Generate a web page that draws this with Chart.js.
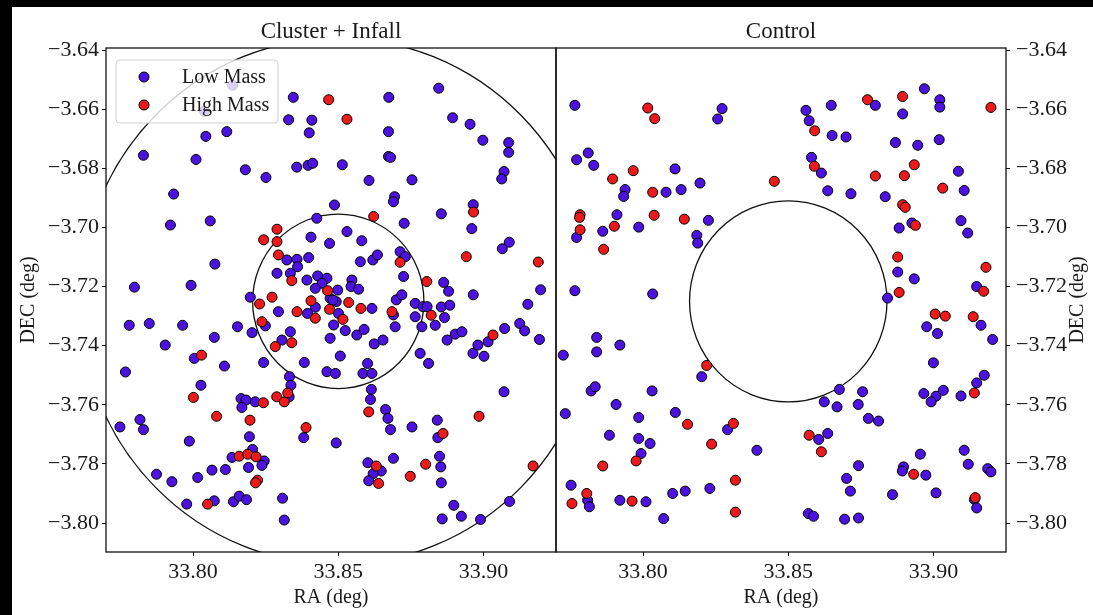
<!DOCTYPE html>
<html>
<head>
<meta charset="utf-8">
<script src="https://cdn.jsdelivr.net/npm/chart.js@4.4.1/dist/chart.umd.min.js"></script>
<style>
  html, body { margin: 0; padding: 0; background: #000; }
  #paper { position: absolute; left: 12px; top: 7px; right: 0; bottom: 0; background: #fff; }
  canvas { position: absolute; left: 0; top: 0; }
</style>
</head>
<body>
<div id="paper"></div>
<canvas id="clusterCanvas" width="1093" height="615"></canvas>
<canvas id="controlCanvas" width="1093" height="615"></canvas>
<script>
// [RA, DEC] in degrees
const clusterLow = [
  [33.8345,-3.6560],[33.8329,-3.6636],[33.8409,-3.6637],[33.8400,-3.6680],[33.8044,-3.6692],[33.8116,-3.6676],
  [33.7829,-3.6756],[33.8010,-3.6770],[33.8180,-3.6805],[33.8251,-3.6831],[33.8357,-3.6796],[33.8396,-3.6790],
  [33.8412,-3.6783],[33.7933,-3.6887],[33.7922,-3.6992],[33.8059,-3.6978],[33.8075,-3.7124],[33.7798,-3.7202],
  [33.7993,-3.7196],[33.8136,-3.6519],[33.8039,-3.6607],
  [33.8674,-3.6560],[33.8846,-3.6529],[33.8673,-3.6676],[33.8894,-3.6629],[33.8954,-3.6651],[33.8998,-3.6705],
  [33.9087,-3.6713],[33.9087,-3.6746],[33.8673,-3.6760],[33.8680,-3.6763],[33.8514,-3.6788],[33.8606,-3.6841],
  [33.8754,-3.6839],[33.9071,-3.6811],[33.9063,-3.6836],[33.8694,-3.6896],[33.8965,-3.6923],[33.8855,-3.6954],
  [33.8960,-3.7004],[33.9089,-3.7050],[33.9065,-3.7072],[33.9197,-3.7211],[33.8863,-3.7186],[33.8880,-3.7216],
  [33.8965,-3.7228],
  [33.8487,-3.6924],[33.8426,-3.6969],[33.8727,-3.6986],[33.8530,-3.7014],[33.8406,-3.7033],[33.8470,-3.7054],
  [33.8581,-3.7045],[33.8323,-3.7110],[33.8358,-3.7108],[33.8398,-3.7102],[33.8360,-3.7133],[33.8576,-3.7116],
  [33.8619,-3.7110],[33.8635,-3.7093],[33.8713,-3.7082],[33.8731,-3.7099],[33.8289,-3.7155],[33.8335,-3.7155],
  [33.8392,-3.7178],[33.8429,-3.7164],[33.8461,-3.7172],[33.8444,-3.7189],[33.8421,-3.7206],[33.8547,-3.7178],
  [33.8544,-3.7200],[33.8570,-3.7209],[33.8725,-3.7166],[33.8197,-3.7236],[33.8498,-3.7212],[33.8472,-3.7240],
  [33.8493,-3.7251],[33.8482,-3.7246],[33.8421,-3.7270],[33.8294,-3.7285],[33.8394,-3.7291],[33.8501,-3.7291],
  [33.8616,-3.7274],[33.8700,-3.7245],[33.8719,-3.7228],[33.8690,-3.7296],[33.8765,-3.7257],[33.8765,-3.7302],
  [33.8792,-3.7268],[33.8806,-3.7268],[33.8788,-3.7336],[33.8249,-3.7333],[33.8153,-3.7336],[33.8203,-3.7356],
  [33.8335,-3.7353],[33.8306,-3.7381],[33.8484,-3.7330],[33.8524,-3.7349],[33.8564,-3.7364],[33.8589,-3.7345],
  [33.8472,-3.7375],[33.8624,-3.7394],[33.8654,-3.7381],[33.8696,-3.7336],[33.8243,-3.7457],[33.8383,-3.7457],
  [33.8507,-3.7435],[33.8601,-3.7460],[33.8461,-3.7488],[33.8490,-3.7494],[33.8585,-3.7494],[33.8616,-3.7494],
  [33.8332,-3.7505],[33.8782,-3.7426],[33.8811,-3.7460],[33.8690,-3.6913],
  [33.7780,-3.7331],[33.7849,-3.7325],[33.7964,-3.7331],[33.7904,-3.7398],[33.8073,-3.7372],[33.7767,-3.7489],
  [33.8004,-3.7443],[33.8108,-3.7469],[33.8337,-3.7534],[33.8027,-3.7534],[33.8165,-3.7579],[33.8182,-3.7584],
  [33.8214,-3.7590],[33.8168,-3.7609],[33.8331,-3.7573],[33.7817,-3.7650],[33.7748,-3.7675],[33.7829,-3.7684],
  [33.7987,-3.7723],[33.8194,-3.7708],[33.8381,-3.7711],[33.8205,-3.7751],[33.8134,-3.7778],[33.8245,-3.7790],
  [33.8191,-3.7812],[33.8237,-3.7805],[33.8065,-3.7821],[33.8111,-3.7819],[33.7874,-3.7835],[33.7927,-3.7860],
  [33.8016,-3.7846],[33.7978,-3.7936],[33.8073,-3.7925],[33.8139,-3.7928],[33.8159,-3.7909],[33.8184,-3.7921],
  [33.8308,-3.7916],[33.8314,-3.7990],
  [33.8855,-3.7269],[33.8884,-3.7263],[33.8834,-3.7331],[33.8866,-3.7305],[33.8875,-3.7381],[33.8903,-3.7361],
  [33.8926,-3.7353],[33.8964,-3.7426],[33.8981,-3.7398],[33.9002,-3.7436],[33.9016,-3.7387],[33.9073,-3.7342],
  [33.9125,-3.7325],[33.9142,-3.7350],[33.9193,-3.7379],[33.9153,-3.7260],[33.9071,-3.7556],[33.8614,-3.7548],
  [33.8611,-3.7582],[33.8663,-3.7616],[33.8671,-3.7646],[33.8680,-3.7684],[33.8754,-3.7675],[33.8841,-3.7652],
  [33.8843,-3.7711],[33.8493,-3.7729],[33.8602,-3.7796],[33.8648,-3.7824],[33.8620,-3.7833],[33.8605,-3.7857],
  [33.8690,-3.7781],[33.8849,-3.7774],[33.8853,-3.7810],[33.8855,-3.7864],[33.8898,-3.7940],[33.8924,-3.7977],
  [33.8858,-3.7986],[33.8990,-3.7988],[33.9090,-3.7927]
];
const clusterHigh = [
  [33.8467,-3.6568],[33.8530,-3.6634],[33.8966,-3.6948],[33.8941,-3.7099],[33.9189,-3.7117],
  [33.8622,-3.6963],[33.8289,-3.7006],[33.8243,-3.7042],[33.8289,-3.7048],[33.8294,-3.7093],[33.8713,-3.7118],
  [33.8340,-3.7180],[33.8805,-3.7183],[33.8229,-3.7259],[33.8272,-3.7236],[33.8463,-3.7214],[33.8406,-3.7248],
  [33.8536,-3.7254],[33.8470,-3.7277],[33.8358,-3.7285],[33.8421,-3.7307],[33.8516,-3.7311],[33.8578,-3.7274],
  [33.8685,-3.7285],[33.8237,-3.7319],[33.8340,-3.7390],[33.8283,-3.7403],
  [33.8029,-3.7432],[33.8001,-3.7575],[33.8242,-3.7593],[33.8288,-3.7573],[33.8314,-3.7590],[33.8326,-3.7560],
  [33.8081,-3.7639],[33.8196,-3.7652],[33.8389,-3.7677],[33.8159,-3.7774],[33.8188,-3.7767],[33.8217,-3.7776],
  [33.8222,-3.7855],[33.8215,-3.7864],[33.8050,-3.7936],
  [33.8820,-3.7297],[33.9033,-3.7364],[33.8605,-3.7624],[33.8861,-3.7697],[33.8985,-3.7639],[33.8631,-3.7807],
  [33.8639,-3.7866],[33.8748,-3.7842],[33.8801,-3.7801],[33.9171,-3.7807]
];
const controlLow = [
  [33.7765,-3.6587],[33.8272,-3.6598],[33.8257,-3.6633],[33.8561,-3.6604],[33.8572,-3.6639],[33.8648,-3.6587],
  [33.8651,-3.6689],[33.8699,-3.6694],[33.8800,-3.6587],[33.8894,-3.6616],[33.8969,-3.6531],[33.9022,-3.6568],
  [33.9022,-3.6593],[33.8869,-3.6713],[33.8946,-3.6722],[33.9020,-3.6703],[33.7771,-3.6771],[33.7811,-3.6748],
  [33.7830,-3.6790],[33.7938,-3.6872],[33.7933,-3.6895],[33.8079,-3.6881],[33.8110,-3.6802],[33.8131,-3.6872],
  [33.8196,-3.6850],[33.8580,-3.6763],[33.8614,-3.6816],[33.8636,-3.6876],[33.8716,-3.6886],[33.8834,-3.6896],
  [33.9086,-3.6810],[33.9106,-3.6875],[33.7771,-3.7034],[33.7861,-3.7013],[33.7910,-3.6957],[33.7985,-3.6999],
  [33.8225,-3.6976],[33.8185,-3.7027],[33.8188,-3.7053],[33.8882,-3.7002],[33.8926,-3.6985],[33.9095,-3.6977],
  [33.9118,-3.7019],[33.8877,-3.7151],[33.8934,-3.7174],[33.9149,-3.7200],[33.8842,-3.7239],[33.7765,-3.7214],
  [33.8033,-3.7225],
  [33.8977,-3.7336],[33.9014,-3.7359],[33.9164,-3.7331],[33.9204,-3.7379],[33.9000,-3.7458],[33.9175,-3.7500],
  [33.9149,-3.7526],[33.9095,-3.7570],[33.8967,-3.7562],[33.9009,-3.7571],[33.9034,-3.7551],[33.8992,-3.7590],
  [33.7840,-3.7372],[33.7840,-3.7421],[33.7920,-3.7398],[33.7725,-3.7432],[33.8202,-3.7505],[33.7821,-3.7553],
  [33.7835,-3.7539],[33.8031,-3.7553],[33.7907,-3.7599],[33.7732,-3.7630],[33.7985,-3.7643],[33.8111,-3.7626],
  [33.7884,-3.7703],[33.7985,-3.7714],[33.8024,-3.7731],[33.7993,-3.7765],[33.8291,-3.7684],[33.8392,-3.7754],
  [33.8230,-3.7883],[33.8145,-3.7892],[33.8102,-3.7900],[33.7752,-3.7872],[33.7809,-3.7923],[33.7815,-3.7945],
  [33.7920,-3.7923],[33.8010,-3.7928],[33.8071,-3.7985],[33.8605,-3.7717],[33.8636,-3.7697],[33.8676,-3.7548],
  [33.8624,-3.7590],[33.8668,-3.7607],[33.8756,-3.7556],[33.8741,-3.7599],[33.8776,-3.7646],[33.8811,-3.7655],
  [33.8742,-3.7806],[33.8701,-3.7849],[33.8714,-3.7892],[33.8569,-3.7968],[33.8587,-3.7977],[33.8694,-3.7987],
  [33.8742,-3.7983],[33.8859,-3.7904],[33.8897,-3.7810],[33.8893,-3.7824],[33.8974,-3.7838],[33.8955,-3.7767],
  [33.9009,-3.7898],[33.9106,-3.7754],[33.9120,-3.7801],[33.9187,-3.7816],[33.9198,-3.7827],[33.9141,-3.7920],
  [33.9149,-3.7949]
];
const controlHigh = [
  [33.8016,-3.6596],[33.8040,-3.6632],[33.8591,-3.6673],[33.8773,-3.6568],[33.8894,-3.6557],[33.9198,-3.6594],
  [33.7895,-3.6836],[33.7966,-3.6808],[33.8033,-3.6881],[33.8452,-3.6844],[33.8590,-3.6793],[33.8800,-3.6826],
  [33.8900,-3.6825],[33.8934,-3.6788],[33.9032,-3.6867],[33.8894,-3.6923],[33.8903,-3.6932],[33.7783,-3.6957],
  [33.7781,-3.6966],[33.7783,-3.7008],[33.7901,-3.6996],[33.8038,-3.6959],[33.8142,-3.6972],[33.7864,-3.7074],
  [33.8938,-3.6993],[33.8877,-3.7100],[33.9181,-3.7135],[33.9173,-3.7216],[33.8882,-3.7220],
  [33.9006,-3.7293],[33.9041,-3.7300],[33.9137,-3.7302],[33.9141,-3.7560],[33.8219,-3.7467],[33.8153,-3.7666],
  [33.7976,-3.7790],[33.7861,-3.7807],[33.8236,-3.7733],[33.8311,-3.7663],[33.8318,-3.7855],[33.7806,-3.7900],
  [33.7755,-3.7934],[33.7962,-3.7926],[33.8318,-3.7963],[33.8572,-3.7703],[33.8614,-3.7759],[33.8932,-3.7835],
  [33.9144,-3.7914]
];

// rings: [centre RA, centre DEC, radius deg]
const clusterRings = [[33.85, -3.725, 0.089], [33.85, -3.725, 0.0295]];
const controlRings = [[33.85, -3.725, 0.034]];

const raTicks = [33.80, 33.85, 33.90];
const decTicks = [-3.80, -3.78, -3.76, -3.74, -3.72, -3.70, -3.68, -3.66, -3.64];
const raRange = [33.77, 33.925];
const decRange = [-3.8098, -3.6393];

const LOW_COLOR = '#4b12e0';
const HIGH_COLOR = '#ec1a1a';
const SERIF = '"Liberation Serif", "DejaVu Serif", serif';
const INK = '#1a1a1a';

function toXY(list) {
  return list.map(p => ({ x: p[0], y: p[1] }));
}

function scatterSet(label, list, color, order) {
  return {
    label: label,
    data: toXY(list),
    backgroundColor: color,
    borderColor: '#000',
    borderWidth: 1,
    pointRadius: 5,
    order: order,
    clip: 0
  };
}

function decLabel(v) {
  return (v < 0 ? '\u2212' : '') + Math.abs(v).toFixed(2);
}

// circles drawn in data units, under the points
const ringsPlugin = {
  id: 'rings',
  beforeDatasetsDraw(chart, args, opts) {
    const { ctx, chartArea: a, scales: { x, y } } = chart;
    ctx.save();
    ctx.beginPath();
    ctx.rect(a.left, a.top, a.right - a.left, a.bottom - a.top);
    ctx.clip();
    ctx.strokeStyle = '#111';
    ctx.lineWidth = 1.3;
    opts.rings.forEach(r => {
      const cx = x.getPixelForValue(r[0]);
      const cy = y.getPixelForValue(r[1]);
      const rx = Math.abs(x.getPixelForValue(r[0] + r[2]) - cx);
      const ry = Math.abs(y.getPixelForValue(r[1] + r[2]) - cy);
      ctx.beginPath();
      ctx.ellipse(cx, cy, rx, ry, 0, 0, Math.PI * 2);
      ctx.stroke();
    });
    ctx.restore();
  }
};

// frame, panel title, legend, right-hand axis label
const decorPlugin = {
  id: 'decor',
  afterDatasetsDraw(chart, args, opts) {
    const { ctx, chartArea: a } = chart;
    ctx.save();
    ctx.strokeStyle = '#111';
    ctx.lineWidth = 1.3;
    ctx.strokeRect(a.left, a.top, a.right - a.left, a.bottom - a.top);

    ctx.fillStyle = INK;
    ctx.font = '23px ' + SERIF;
    ctx.textAlign = 'center';
    ctx.textBaseline = 'alphabetic';
    ctx.fillText(opts.title, (a.left + a.right) / 2, a.top - 10);

    if (opts.legend) {
      const bx = a.left + 10, by = a.top + 12, bw = 162, bh = 63;
      ctx.beginPath();
      ctx.roundRect(bx, by, bw, bh, 4);
      ctx.fillStyle = 'rgba(255,255,255,0.8)';
      ctx.fill();
      ctx.strokeStyle = '#d0d0d0';
      ctx.lineWidth = 1;
      ctx.stroke();
      const rows = [['Low Mass', LOW_COLOR], ['High Mass', HIGH_COLOR]];
      rows.forEach((row, i) => {
        const ry = by + 17 + i * 28;
        ctx.beginPath();
        ctx.arc(bx + 28, ry, 5, 0, Math.PI * 2);
        ctx.fillStyle = row[1];
        ctx.fill();
        ctx.strokeStyle = '#000';
        ctx.stroke();
        ctx.fillStyle = INK;
        ctx.font = '20px ' + SERIF;
        ctx.textAlign = 'left';
        ctx.textBaseline = 'middle';
        ctx.fillText(row[0], bx + 66, ry + 1);
      });
    }

    if (opts.rightLabel) {
      ctx.translate(a.right + 72, (a.top + a.bottom) / 2);
      ctx.rotate(-Math.PI / 2);
      ctx.fillStyle = INK;
      ctx.font = '20px ' + SERIF;
      ctx.textAlign = 'center';
      ctx.textBaseline = 'middle';
      ctx.fillText(opts.rightLabel, 0, 0);
    }
    ctx.restore();
  }
};

function makeScales(yPosition) {
  return {
    x: {
      type: 'linear',
      position: 'bottom',
      min: raRange[0],
      max: raRange[1],
      afterBuildTicks: s => { s.ticks = raTicks.map(v => ({ value: v })); },
      afterFit: s => { s.height = 63; },
      grid: { drawOnChartArea: false, drawTicks: true, tickLength: 4, color: '#111', lineWidth: 1 },
      border: { display: false },
      ticks: { color: INK, padding: 3, maxRotation: 0, font: { family: SERIF, size: 22 },
               callback: v => v.toFixed(2) },
      title: { display: true, text: 'RA (deg)', color: INK, font: { family: SERIF, size: 20 },
               padding: { top: 0, bottom: 5 } }
    },
    y: {
      type: 'linear',
      position: yPosition,
      min: decRange[0],
      max: decRange[1],
      afterBuildTicks: s => { s.ticks = decTicks.map(v => ({ value: v })); },
      afterFit: s => { s.width = yPosition === 'left' ? 94 : 80; },
      grid: { drawOnChartArea: false, drawTicks: true, tickLength: 4, color: '#111', lineWidth: 1 },
      border: { display: false },
      ticks: { color: INK, padding: yPosition === 'left' ? 3 : 6, font: { family: SERIF, size: 22 },
               callback: v => decLabel(v) },
      title: { display: yPosition === 'left', text: 'DEC (deg)', color: INK,
               font: { family: SERIF, size: 20 }, padding: { top: 5, bottom: 0 } }
    }
  };
}

function makeChart(id, low, high, rings, title, yPosition, padding, extra) {
  return new Chart(document.getElementById(id), {
    type: 'scatter',
    data: {
      datasets: [
        scatterSet('Low Mass', low, LOW_COLOR, 2),
        scatterSet('High Mass', high, HIGH_COLOR, 1)
      ]
    },
    options: {
      responsive: false,
      animation: false,
      events: [],
      layout: { padding: padding },
      scales: makeScales(yPosition),
      plugins: {
        legend: { display: false },
        tooltip: { enabled: false },
        rings: { rings: rings },
        decor: Object.assign({ title: title }, extra)
      }
    },
    plugins: [ringsPlugin, decorPlugin]
  });
}

makeChart('clusterCanvas', clusterLow, clusterHigh, clusterRings, 'Cluster + Infall', 'left',
  { left: 12, right: 537, top: 48, bottom: 0 }, { legend: true });
makeChart('controlCanvas', controlLow, controlHigh, controlRings, 'Control', 'right',
  { left: 556, right: 7, top: 48, bottom: 0 }, { rightLabel: 'DEC (deg)' });
</script>
</body>
</html>
